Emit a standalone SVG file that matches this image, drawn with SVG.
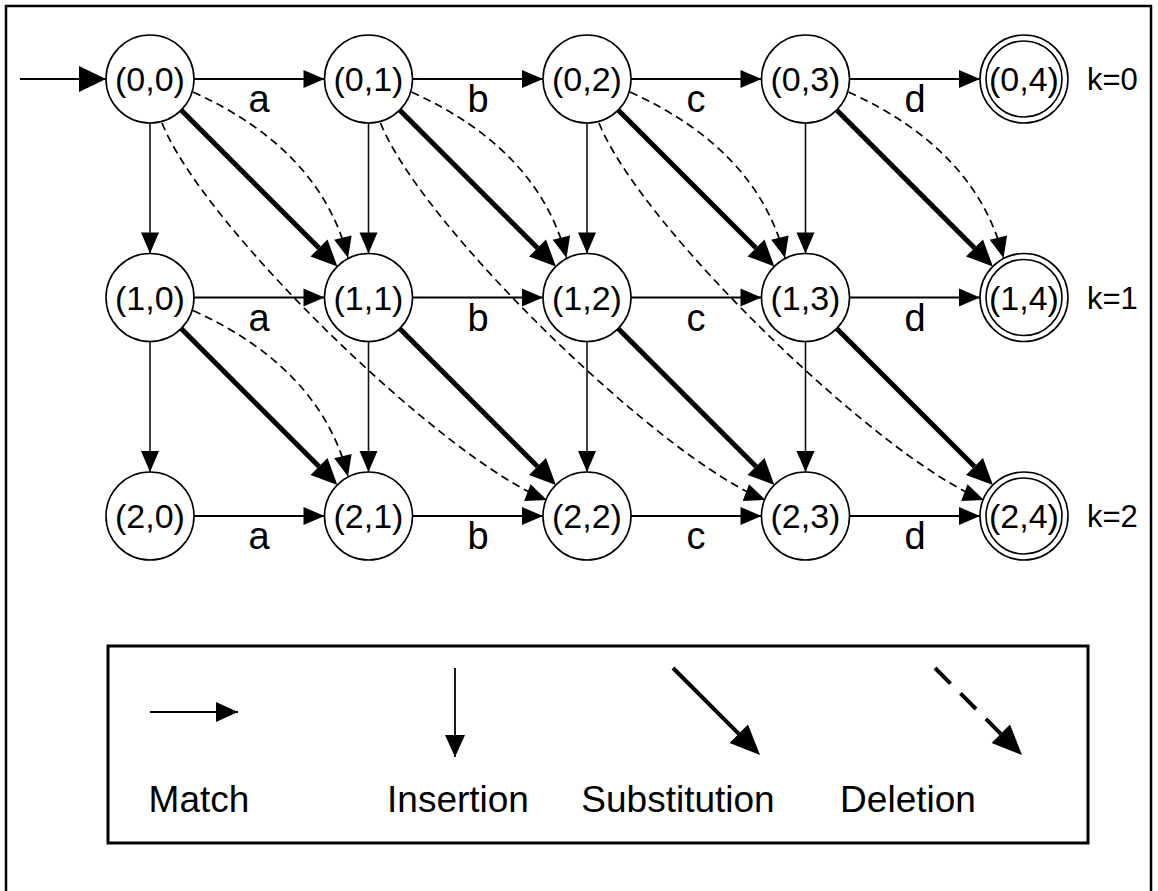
<svg xmlns="http://www.w3.org/2000/svg" width="1158" height="891" viewBox="0 0 1158 891">
  <defs>
    <style>
      .frame { fill: none; stroke: #000; stroke-width: 2.5; }
      .legend-box { fill: none; stroke: #000; stroke-width: 3; }
      .node circle { fill: #fff; stroke: #000; stroke-width: 1.6; }
      .node text { font-family: "Liberation Sans", Arial, sans-serif; font-size: 34px; text-anchor: middle; fill: #000; }
      .lbl { font-family: "Liberation Sans", Arial, sans-serif; font-size: 38px; text-anchor: middle; fill: #000; }
      .klbl { font-family: "Liberation Sans", Arial, sans-serif; font-size: 31px; fill: #000; }
      .leg { font-family: "Liberation Sans", Arial, sans-serif; font-size: 37px; text-anchor: middle; fill: #000; }
      .match { fill: none; stroke: #000; stroke-width: 1.8; marker-end: url(#head); }
      .ins { fill: none; stroke: #111; stroke-width: 1.6; marker-end: url(#head); }
      .sub { fill: none; stroke: #000; stroke-width: 5; marker-end: url(#headBig); }
      .del { fill: none; stroke: #000; stroke-width: 1.7; stroke-dasharray: 8 5; marker-end: url(#head); }
    </style>
    <!-- thin arrowhead, tip sits on the path end -->
    <marker id="head" markerUnits="userSpaceOnUse" markerWidth="21" markerHeight="18" refX="21" refY="9" orient="auto" overflow="visible">
      <path d="M0,0 L21,9 L0,18 Z" fill="#000"/>
    </marker>
    <!-- start arrowhead -->
    <marker id="headStart" markerUnits="userSpaceOnUse" markerWidth="27" markerHeight="26" refX="27" refY="13" orient="auto" overflow="visible">
      <path d="M0,0 L27,13 L0,26 Z" fill="#000"/>
    </marker>
    <!-- thick arrowhead, base sits on the (shortened) path end -->
    <marker id="headBig" markerUnits="userSpaceOnUse" markerWidth="26" markerHeight="24" refX="0" refY="12" orient="auto" overflow="visible">
      <path d="M0,0 L26,12 L0,24 Z" fill="#000"/>
    </marker>
    <marker id="legHead" markerUnits="userSpaceOnUse" markerWidth="22" markerHeight="20" refX="22" refY="10" orient="auto" overflow="visible">
      <path d="M0,0 L22,10 L0,20 Z" fill="#000"/>
    </marker>
    <marker id="legHeadBig" markerUnits="userSpaceOnUse" markerWidth="30" markerHeight="26" refX="0" refY="13" orient="auto" overflow="visible">
      <path d="M0,0 L30,13 L0,26 Z" fill="#000"/>
    </marker>
  </defs>

  <rect width="1158" height="891" fill="#fff"/>
  <rect class="frame" x="6" y="6" width="1145" height="895"/>

  <!-- transitions -->
  <g id="connectors">
    <!-- start -->
    <path d="M20,79 H106" fill="none" stroke="#000" stroke-width="1.8" marker-end="url(#headStart)"/>

    <!-- match (horizontal) -->
    <path class="match" d="M194,79 H324.5"/>
    <path class="match" d="M412.5,79 H543"/>
    <path class="match" d="M631,79 H761.5"/>
    <path class="match" d="M849.5,79 H980"/>
    <path class="match" d="M194,297.5 H324.5"/>
    <path class="match" d="M412.5,297.5 H543"/>
    <path class="match" d="M631,297.5 H761.5"/>
    <path class="match" d="M849.5,297.5 H980"/>
    <path class="match" d="M194,516 H324.5"/>
    <path class="match" d="M412.5,516 H543"/>
    <path class="match" d="M631,516 H761.5"/>
    <path class="match" d="M849.5,516 H980"/>

    <!-- insertion (vertical) -->
    <path class="ins" d="M150,123 V253.5"/>
    <path class="ins" d="M368.5,123 V253.5"/>
    <path class="ins" d="M587,123 V253.5"/>
    <path class="ins" d="M805.5,123 V253.5"/>
    <path class="ins" d="M150,341.5 V472"/>
    <path class="ins" d="M368.5,341.5 V472"/>
    <path class="ins" d="M587,341.5 V472"/>
    <path class="ins" d="M805.5,341.5 V472"/>

    <!-- substitution (diagonal) -->
    <path class="sub" d="M181.1,110.1 L319,248"/>
    <path class="sub" d="M399.6,110.1 L537.5,248"/>
    <path class="sub" d="M618.1,110.1 L756,248"/>
    <path class="sub" d="M836.6,110.1 L974.5,248"/>
    <path class="sub" d="M181.1,328.6 L319,466.5"/>
    <path class="sub" d="M399.6,328.6 L537.5,466.5"/>
    <path class="sub" d="M618.1,328.6 L756,466.5"/>
    <path class="sub" d="M836.6,328.6 L974.5,466.5"/>

    <!-- deletion (dashed, one step) -->
    <path class="del" d="M193,92 Q321,150 348,258"/>
    <path class="del" d="M411.5,92 Q539.5,150 566.5,258"/>
    <path class="del" d="M630,92 Q758,150 785,258"/>
    <path class="del" d="M848.5,92 Q976.5,150 1003.5,258"/>
    <path class="del" d="M193,310.5 Q321,368.5 348,476.5"/>

    <!-- deletion (dashed, two steps) -->
    <path class="del" d="M162,123 C204,228 447,462 547,500"/>
    <path class="del" d="M380.5,123 C422.5,228 665.5,462 765.5,500"/>
    <path class="del" d="M599,123 C641,228 884,462 984,500"/>
  </g>

  <!-- transition symbols -->
  <g id="edge-labels">
    <text class="lbl" x="259" y="112">a</text>
    <text class="lbl" x="478" y="112">b</text>
    <text class="lbl" x="696" y="112">c</text>
    <text class="lbl" x="915" y="112">d</text>
    <text class="lbl" x="259" y="330.5">a</text>
    <text class="lbl" x="478" y="330.5">b</text>
    <text class="lbl" x="696" y="330.5">c</text>
    <text class="lbl" x="915" y="330.5">d</text>
    <text class="lbl" x="259" y="549">a</text>
    <text class="lbl" x="478" y="549">b</text>
    <text class="lbl" x="696" y="549">c</text>
    <text class="lbl" x="915" y="549">d</text>
  </g>

  <!-- states -->
  <g id="n00" class="node"><circle cx="150" cy="79" r="44"/><text x="150" y="91">(0,0)</text></g>
  <g id="n01" class="node"><circle cx="368.5" cy="79" r="44"/><text x="368.5" y="91">(0,1)</text></g>
  <g id="n02" class="node"><circle cx="587" cy="79" r="44"/><text x="587" y="91">(0,2)</text></g>
  <g id="n03" class="node"><circle cx="805.5" cy="79" r="44"/><text x="805.5" y="91">(0,3)</text></g>
  <g id="n04" class="node"><circle cx="1024" cy="79" r="44"/><circle cx="1024" cy="79" r="38"/><text x="1024" y="91">(0,4)</text></g>

  <g id="n10" class="node"><circle cx="150" cy="297.5" r="44"/><text x="150" y="309.5">(1,0)</text></g>
  <g id="n11" class="node"><circle cx="368.5" cy="297.5" r="44"/><text x="368.5" y="309.5">(1,1)</text></g>
  <g id="n12" class="node"><circle cx="587" cy="297.5" r="44"/><text x="587" y="309.5">(1,2)</text></g>
  <g id="n13" class="node"><circle cx="805.5" cy="297.5" r="44"/><text x="805.5" y="309.5">(1,3)</text></g>
  <g id="n14" class="node"><circle cx="1024" cy="297.5" r="44"/><circle cx="1024" cy="297.5" r="38"/><text x="1024" y="309.5">(1,4)</text></g>

  <g id="n20" class="node"><circle cx="150" cy="516" r="44"/><text x="150" y="528">(2,0)</text></g>
  <g id="n21" class="node"><circle cx="368.5" cy="516" r="44"/><text x="368.5" y="528">(2,1)</text></g>
  <g id="n22" class="node"><circle cx="587" cy="516" r="44"/><text x="587" y="528">(2,2)</text></g>
  <g id="n23" class="node"><circle cx="805.5" cy="516" r="44"/><text x="805.5" y="528">(2,3)</text></g>
  <g id="n24" class="node"><circle cx="1024" cy="516" r="44"/><circle cx="1024" cy="516" r="38"/><text x="1024" y="528">(2,4)</text></g>

  <!-- error levels -->
  <g id="levels">
    <text class="klbl" x="1087" y="90">k=0</text>
    <text class="klbl" x="1087" y="308.5">k=1</text>
    <text class="klbl" x="1087" y="527">k=2</text>
  </g>

  <!-- key -->
  <g id="legend">
    <rect class="legend-box" x="108" y="646" width="980" height="197"/>
    <path d="M150,712 H238" fill="none" stroke="#000" stroke-width="1.8" marker-end="url(#legHead)"/>
    <path d="M455,668 V757" fill="none" stroke="#000" stroke-width="1.8" marker-end="url(#legHead)"/>
    <path d="M673,668 L738.8,733.8" fill="none" stroke="#000" stroke-width="4" marker-end="url(#legHeadBig)"/>
    <path d="M935,668 L1000.8,733.8" fill="none" stroke="#000" stroke-width="4" stroke-dasharray="22 14" marker-end="url(#legHeadBig)"/>
    <text class="leg" x="199" y="812">Match</text>
    <text class="leg" x="458" y="812">Insertion</text>
    <text class="leg" x="678" y="812">Substitution</text>
    <text class="leg" x="908" y="812">Deletion</text>
  </g>
</svg>
